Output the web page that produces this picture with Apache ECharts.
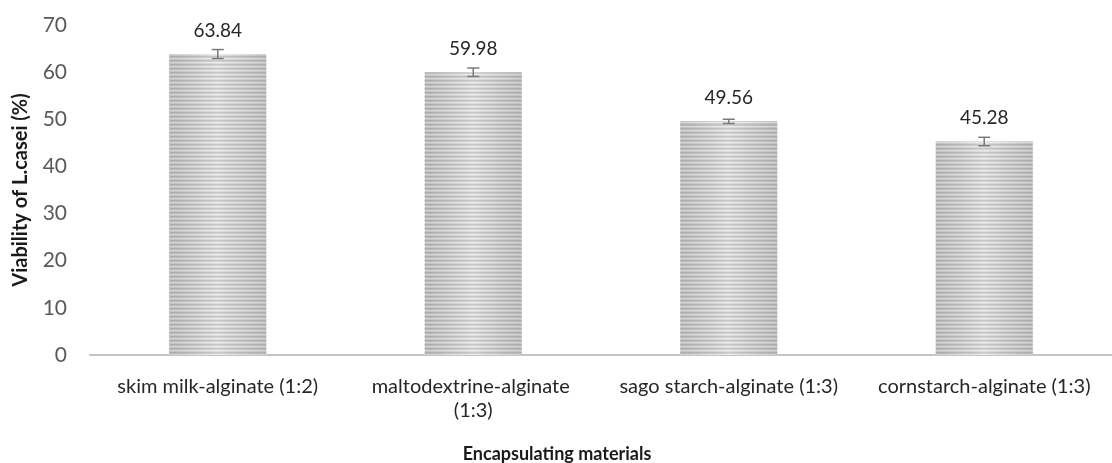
<!DOCTYPE html>
<html><head><meta charset="utf-8">
<script src="https://cdn.jsdelivr.net/npm/echarts@6/dist/echarts.min.js"></script>
<style>html,body{margin:0;padding:0;background:#fff}#c{width:1112px;height:463px}</style>
</head><body><div id="c"></div>
<script>
const categories = ['skim milk-alginate (1:2)', 'maltodextrine-alginate (1:3)', 'sago starch-alginate (1:3)', 'cornstarch-alginate (1:3)'];
const viability = [63.84, 59.98, 49.56, 45.28];
const errors = [0.95, 0.9, 0.45, 0.9];
const yTicks = [0, 10, 20, 30, 40, 50, 60, 70];

const pc = document.createElement('canvas');
pc.width = 4; pc.height = 4;
const px = pc.getContext('2d');
const rows = ['#b2b2b2', '#c0c0c0', '#e6e6e6', '#d0d0d0'];
rows.forEach((c, i) => { px.fillStyle = c; px.fillRect(0, i, 4, 1); });

const font = 'Lato, "Open Sans", sans-serif';
const chart = echarts.init(document.getElementById('c'), null, {renderer: 'canvas'});
chart.setOption({
  animation: false,
  grid: {left: 90, right: 0, top: 25, bottom: 108, outerBoundsMode: 'none', containLabel: false},
  xAxis: {
    type: 'category', data: categories,
    name: 'Encapsulating materials', nameLocation: 'middle', nameGap: 90,
    nameTextStyle: {fontFamily: font, fontWeight: 'bold', fontSize: 18, color: '#1a1a1a', padding: [0, 88, 0, 0]},
    axisLine: {lineStyle: {color: '#c4c4c4', width: 2}},
    axisTick: {show: false},
    axisLabel: {interval: 0, margin: 20, width: 228, overflow: 'break', lineHeight: 24,
      fontFamily: font, fontSize: 20, color: '#262626'}
  },
  yAxis: {
    type: 'value', min: 0, max: 70, interval: 10,
    name: 'Viability of L.casei (%)', nameLocation: 'middle', nameGap: 59,
    nameTextStyle: {fontFamily: font, fontWeight: 'bold', fontSize: 20, color: '#1a1a1a'},
    axisLine: {show: false}, axisTick: {show: false}, splitLine: {show: false},
    axisLabel: {margin: 23, fontFamily: font, fontSize: 21, color: '#595959',
      formatter: v => yTicks.includes(v) ? String(v) : ''}
  },
  series: [
    {
      type: 'bar', data: viability, barWidth: '38%',
      itemStyle: {color: {image: pc, repeat: 'repeat'}},
      label: {show: true, position: 'top', distance: 14, fontFamily: font, fontSize: 19, color: '#262626',
        formatter: p => p.value.toFixed(2)}
    },
    {
      type: 'bar', data: viability, barWidth: '38%', barGap: '-100%', silent: true,
      itemStyle: {color: {type: 'linear', x: 0, y: 0, x2: 1, y2: 0, colorStops: [
        {offset: 0, color: 'rgba(150,150,150,0.25)'},
        {offset: 0.5, color: 'rgba(255,255,255,0.3)'},
        {offset: 1, color: 'rgba(150,150,150,0.25)'}]}}
    },
    {
      type: 'custom', silent: true,
      data: viability.map((v, i) => [i, v - errors[i], v + errors[i]]),
      renderItem: (params, api) => {
        const lo = api.coord([api.value(0), api.value(1)]);
        const hi = api.coord([api.value(0), api.value(2)]);
        const w = 6;
        const st = {stroke: '#7a7a7a', lineWidth: 1.5};
        return {type: 'group', children: [
          {type: 'line', shape: {x1: lo[0], y1: lo[1], x2: hi[0], y2: hi[1]}, style: st},
          {type: 'line', shape: {x1: lo[0] - w, y1: lo[1], x2: lo[0] + w, y2: lo[1]}, style: st},
          {type: 'line', shape: {x1: hi[0] - w, y1: hi[1], x2: hi[0] + w, y2: hi[1]}, style: st}
        ]};
      },
      z: 5
    }
  ]
});
</script></body></html>
